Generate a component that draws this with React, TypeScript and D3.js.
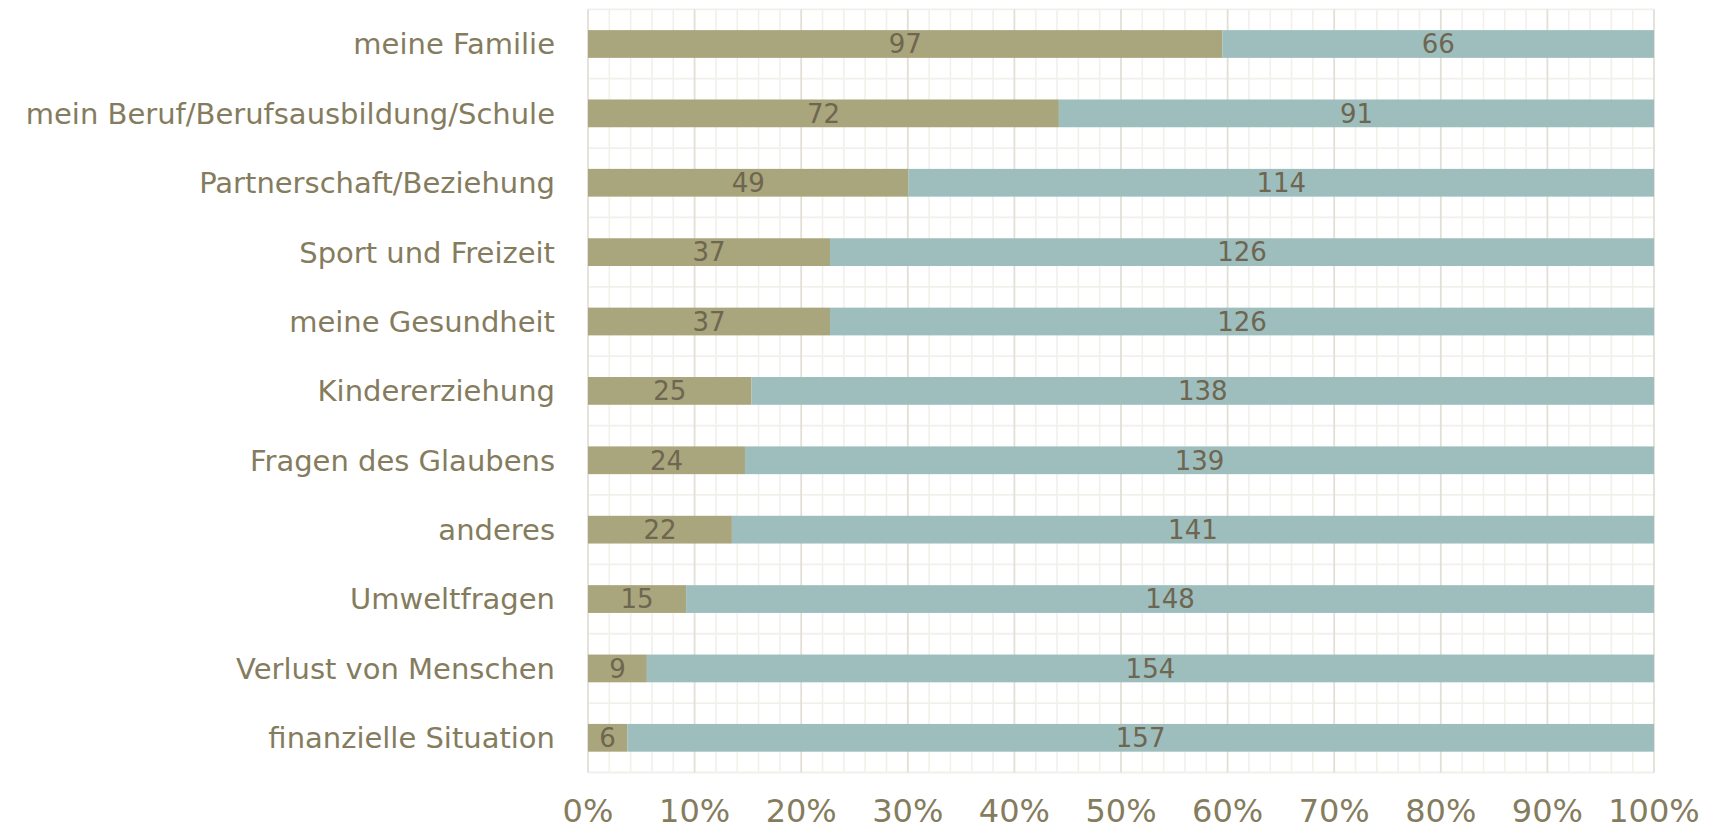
import React from "react";
import * as d3 from "d3";

const categories = [
  "meine Familie",
  "mein Beruf/Berufsausbildung/Schule",
  "Partnerschaft/Beziehung",
  "Sport und Freizeit",
  "meine Gesundheit",
  "Kindererziehung",
  "Fragen des Glaubens",
  "anderes",
  "Umweltfragen",
  "Verlust von Menschen",
  "finanzielle Situation",
];
const jaValues = [97, 72, 49, 37, 37, 25, 24, 22, 15, 9, 6];
const neinValues = [66, 91, 114, 126, 126, 138, 139, 141, 148, 154, 157];
const tickValues = [0, 0.1, 0.2, 0.3, 0.4, 0.5, 0.6, 0.7, 0.8, 0.9, 1.0];

const W = 1713;
const H = 830;
const FONT = "'DejaVu Sans', sans-serif";
const TEXT = "#857C5E";
const LABEL = "#6E6650";
const C_JA = "#A9A57C";
const C_NEIN = "#9DBEBD";
const MAJOR = "#E3DFD6";
const MINOR = "#F2F0EB";

export default function App() {
  const x = d3.scaleLinear().domain([0, 1]).range([588, 1654]);
  const y = d3
    .scaleBand<string>()
    .domain(categories)
    .range([9.3, 772.5])
    .paddingInner(0.6)
    .paddingOuter(0.3);
  const step = y.step();
  const top = y.range()[0];
  const bottom = y.range()[1];
  const minorTicks = d3.range(0, 51).map((i) => i / 50);
  const hLines = d3.range(0, categories.length + 1).map((i) => top + i * step);

  return (
    <svg
      width={W}
      height={H}
      style={{ position: "absolute", left: 0, top: 0, background: "#fff" }}
      fontFamily={FONT}
    >
      {hLines.map((yy, i) => (
        <line key={"h" + i} x1={x(0)} x2={x(1)} y1={yy} y2={yy} stroke={MINOR} strokeWidth={1.8} />
      ))}
      {minorTicks.map((t, i) =>
        i % 5 === 0 ? null : (
          <line key={"m" + i} x1={x(t)} x2={x(t)} y1={top} y2={bottom} stroke={MINOR} strokeWidth={1.6} />
        )
      )}
      {tickValues.map((t, i) => (
        <line key={"M" + i} x1={x(t)} x2={x(t)} y1={top} y2={bottom} stroke={MAJOR} strokeWidth={1.8} />
      ))}
      {categories.map((c, i) => {
        const total = jaValues[i] + neinValues[i];
        const p1 = jaValues[i] / total;
        const y0 = y(c)!;
        const bw = y.bandwidth();
        const cy = y0 + bw / 2;
        return (
          <g key={c}>
            <rect x={x(0)} y={y0} width={x(p1) - x(0)} height={bw} fill={C_JA} />
            <rect x={x(p1)} y={y0} width={x(1) - x(p1)} height={bw} fill={C_NEIN} />
            <text x={(x(0) + x(p1)) / 2} y={cy} dy="0.36em" textAnchor="middle" fontSize={26} fill={LABEL}>
              {jaValues[i]}
            </text>
            <text x={(x(p1) + x(1)) / 2} y={cy} dy="0.36em" textAnchor="middle" fontSize={26} fill={LABEL}>
              {neinValues[i]}
            </text>
            <text x={555} y={cy} dy="0.36em" textAnchor="end" fontSize={29} fill={TEXT}>
              {c}
            </text>
          </g>
        );
      })}
      {tickValues.map((t, i) => (
        <text key={"t" + i} x={x(t)} y={822} textAnchor="middle" fontSize={32} fill={TEXT}>
          {d3.format(".0%")(t)}
        </text>
      ))}
    </svg>
  );
}
